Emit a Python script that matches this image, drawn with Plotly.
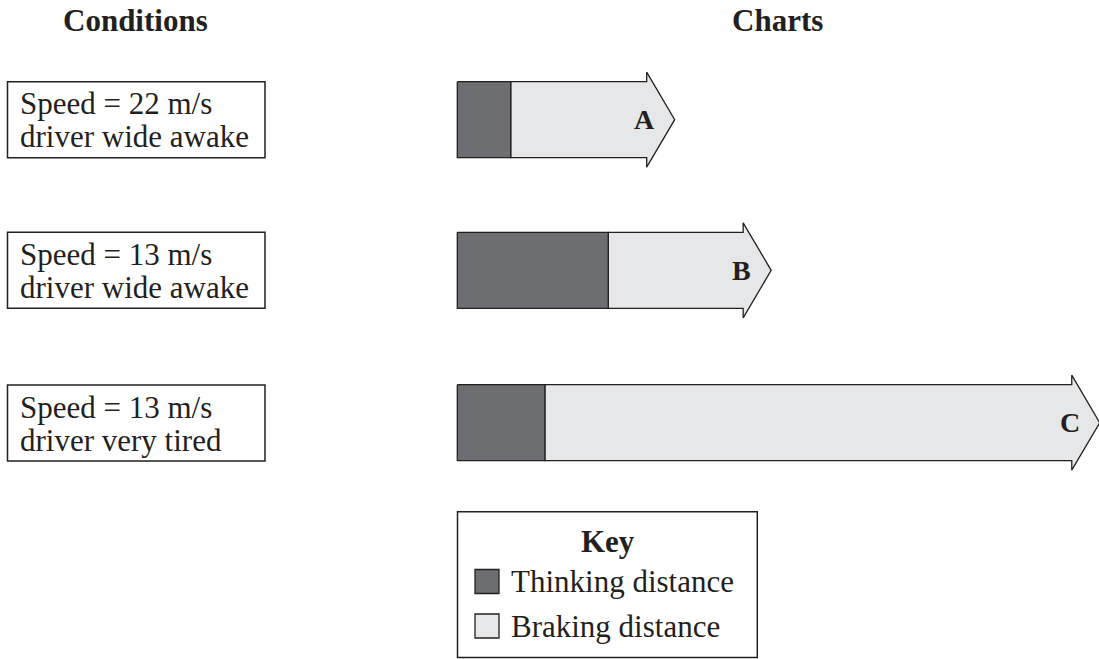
import plotly.graph_objects as go

# ---- data (metres) ----
chart_labels = ["A", "B", "C"]
thinking_distance = [15.0, 42.4, 24.6]
braking_distance = [38.2, 37.9, 148.0]
condition_line1 = ["Speed = 22 m/s", "Speed = 13 m/s", "Speed = 13 m/s"]
condition_line2 = ["driver wide awake", "driver wide awake", "driver very tired"]
key_labels = ["Thinking distance", "Braking distance"]

# ---- layout constants (pixels) ----
W, H = 1099, 659
PX_PER_M = 3.56
X0_PX = 457.3
row_centers = [119.7, 270.3, 422.7]
BODY_HALF = 38.0
HEAD_HALF = 47.5
HEAD_LEN_M = 28.0 / PX_PER_M

DARK = "#6d6e71"
LIGHT = "#e6e7e8"
INK = "#231f20"
FONT = "Liberation Serif"

def px(x):
    return x / W

fig = go.Figure()

for lab, t, b, yc in zip(chart_labels, thinking_distance, braking_distance, row_centers):
    end = t + b
    # braking arrow (body + head)
    xs = [t, end, end, end + HEAD_LEN_M, end, end, t, t]
    ys = [yc - BODY_HALF, yc - BODY_HALF, yc - HEAD_HALF, yc, yc + HEAD_HALF,
          yc + BODY_HALF, yc + BODY_HALF, yc - BODY_HALF]
    fig.add_trace(go.Scatter(x=xs, y=ys, mode="lines", fill="toself",
                             fillcolor=LIGHT, line=dict(color=INK, width=1.3),
                             hoverinfo="skip", showlegend=False))
    # thinking block
    xs = [0, t, t, 0, 0]
    ys = [yc - BODY_HALF, yc - BODY_HALF, yc + BODY_HALF, yc + BODY_HALF, yc - BODY_HALF]
    fig.add_trace(go.Scatter(x=xs, y=ys, mode="lines", fill="toself",
                             fillcolor=DARK, line=dict(color=INK, width=1.3),
                             hoverinfo="skip", showlegend=False))
    fig.add_annotation(x=end, y=yc, xref="x", yref="y", text="<b>%s</b>" % lab,
                       showarrow=False, xanchor="center", yanchor="middle", xshift=-2,
                       font=dict(family=FONT, size=28, color=INK))

shapes = []

# Titles
fig.add_annotation(x=px(135.5), y=20, xref="paper", yref="y", text="<b>Conditions</b>",
                   showarrow=False, xanchor="center", yanchor="middle",
                   font=dict(family=FONT, size=31, color=INK))
fig.add_annotation(x=px(777), y=20, xref="paper", yref="y", text="<b>Charts</b>",
                   showarrow=False, xanchor="center", yanchor="middle",
                   font=dict(family=FONT, size=31, color=INK))

# Condition boxes
box_tops = [81.7, 232.3, 385.0]
for top, l1, l2 in zip(box_tops, condition_line1, condition_line2):
    shapes.append(dict(type="rect", xref="paper", yref="y", x0=px(7.5), x1=px(265),
                       y0=top, y1=top + 76, line=dict(color=INK, width=1.5),
                       fillcolor="rgba(0,0,0,0)"))
    fig.add_annotation(x=px(18), y=top + 22, xref="paper", yref="y", text=l1,
                       showarrow=False, xanchor="left", yanchor="middle",
                       font=dict(family=FONT, size=31, color=INK))
    fig.add_annotation(x=px(18), y=top + 55, xref="paper", yref="y", text=l2,
                       showarrow=False, xanchor="left", yanchor="middle",
                       font=dict(family=FONT, size=31, color=INK))

# Key
shapes.append(dict(type="rect", xref="paper", yref="y", x0=px(457.5), x1=px(757.3),
                   y0=511.7, y1=657.5, line=dict(color=INK, width=1.5),
                   fillcolor="white"))
fig.add_annotation(x=px(608), y=541, xref="paper", yref="y", text="<b>Key</b>",
                   showarrow=False, xanchor="center", yanchor="middle",
                   font=dict(family=FONT, size=31, color=INK))
key_rows = [581.5, 626.0]
for lab, yc, col in zip(key_labels, key_rows, [DARK, LIGHT]):
    shapes.append(dict(type="rect", xref="paper", yref="y", x0=px(475), x1=px(499),
                       y0=yc - 12, y1=yc + 12, line=dict(color=INK, width=1.3),
                       fillcolor=col))
    fig.add_annotation(x=px(509), y=yc, xref="paper", yref="y", text=lab,
                       showarrow=False, xanchor="left", yanchor="middle",
                       font=dict(family=FONT, size=31, color=INK))

fig.update_layout(
    width=W, height=H,
    margin=dict(l=0, r=0, t=0, b=0),
    paper_bgcolor="white", plot_bgcolor="white",
    shapes=shapes,
    xaxis=dict(range=[-X0_PX / PX_PER_M, (W - X0_PX) / PX_PER_M], visible=False,
               fixedrange=True),
    yaxis=dict(range=[H, 0], visible=False, fixedrange=True),
    showlegend=False,
)

fig.write_html("out.html", config={"displayModeBar": False},
               post_script="document.body.style.margin='0px';document.body.style.overflow='hidden';")
